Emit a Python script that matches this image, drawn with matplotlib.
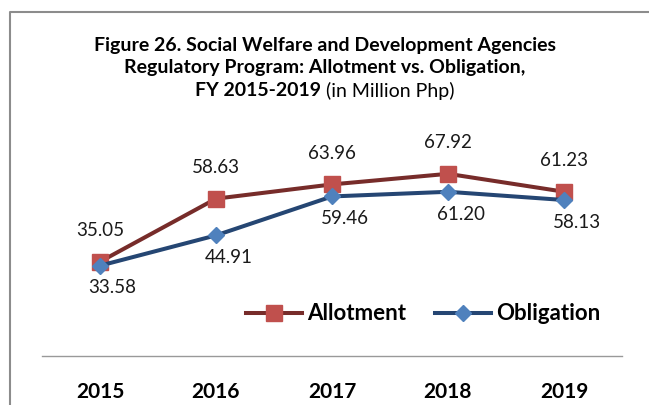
import matplotlib
matplotlib.use("Agg")
import matplotlib.pyplot as plt
from matplotlib.lines import Line2D

years = ["2015", "2016", "2017", "2018", "2019"]
allotment = [35.05, 58.63, 63.96, 67.92, 61.23]
obligation = [33.58, 44.91, 59.46, 61.20, 58.13]

plt.rcParams['font.family'] = ['Lato', 'DejaVu Sans']

fig = plt.figure(figsize=(6.49, 4.05), dpi=100)
ax = fig.add_axes([42 / 649, 49.5 / 405, 580 / 649, 214 / 405])

x = list(range(len(years)))
ax.plot(x, allotment, color='#772C2A', lw=2.9, marker='s', ms=11.5,
        mfc='#C0504D', mec='#C0504D', label='Allotment', zorder=3)
ax.plot(x, obligation, color='#254673', lw=2.9, marker='D', ms=8,
        mfc='#4F81BD', mec='#4F81BD', label='Obligation', zorder=4)

# data labels
for i, v in enumerate(allotment):
    ax.annotate(f"{v:.2f}", (i, v), xytext=(0, 22.5), textcoords='offset points',
                ha='center', va='center', fontsize=13.5, color='#1a1a1a')
for i, v in enumerate(obligation):
    ax.annotate(f"{v:.2f}", (i, v), xytext=(9, -16), textcoords='offset points',
                ha='center', va='center', fontsize=13.5, color='#1a1a1a')

ax.set_xlim(-0.5, len(years) - 0.5)
ax.set_ylim(0, 80)
ax.set_xticks(x)
ax.set_xticklabels(years, fontsize=15, fontweight='bold')
ax.tick_params(axis='x', length=0, pad=19)
ax.set_yticks([])
for s in ['left', 'right', 'top']:
    ax.spines[s].set_visible(False)
ax.spines['bottom'].set_color('#999999')
ax.spines['bottom'].set_linewidth(1.0)
ax.patch.set_alpha(0)

leg = ax.legend(loc='center', bbox_to_anchor=(423.5 / 649, 91 / 405),
                bbox_transform=fig.transFigure, ncol=2, frameon=False,
                prop={'size': 16, 'weight': 'bold'}, handlelength=2.5,
                handletextpad=0.25, columnspacing=1.3)

# title
fs = 14
fig.text(0.5, 1 - 45 / 405, "Figure 26. Social Welfare and Development Agencies",
         ha='center', va='center', fontsize=fs, fontweight='bold')
fig.text(0.5, 1 - 68 / 405, "Regulatory Program: Allotment vs. Obligation,",
         ha='center', va='center', fontsize=fs, fontweight='bold')
r = fig.canvas.get_renderer()
t1 = fig.text(0, 1 - 91 / 405, "FY 2015-2019", ha='left', va='center',
              fontsize=fs, fontweight='bold')
t2 = fig.text(0, 1 - 91 / 405, " (in Million Php)", ha='left', va='center',
              fontsize=fs)
w1 = t1.get_window_extent(r).width
w2 = t2.get_window_extent(r).width
x0 = (fig.bbox.width - w1 - w2) / 2
t1.set_x(x0 / fig.bbox.width)
t2.set_x((x0 + w1) / fig.bbox.width)

# outer frame (left and top edges)
fig.add_artist(Line2D([9.5 / 649, 9.5 / 649, 1.0], [0, 1 - 11.5 / 405, 1 - 11.5 / 405],
                      transform=fig.transFigure, color='#8c8c8c', lw=1.5))

fig.savefig("out.png", dpi=100)
